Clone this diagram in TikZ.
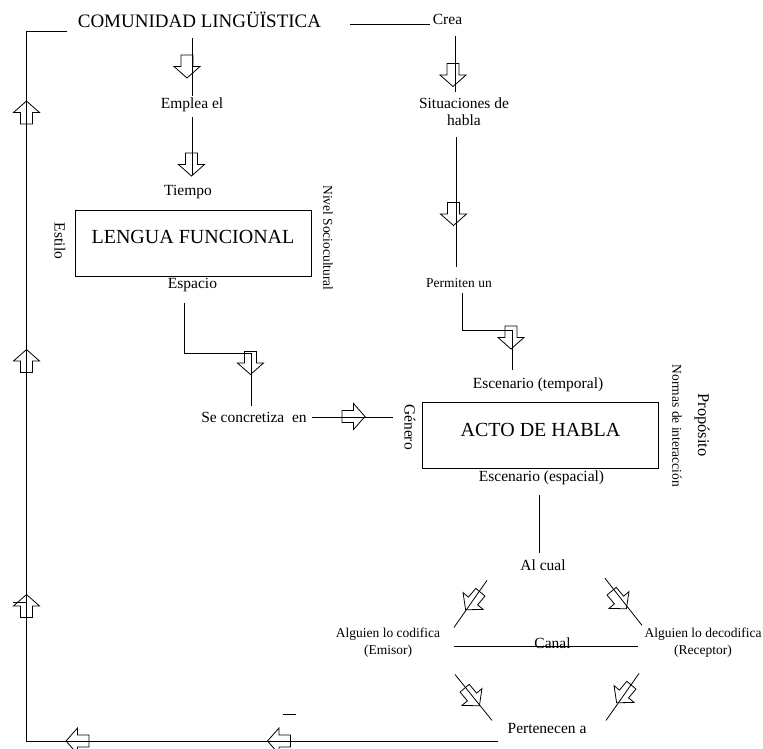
\documentclass[tikz,border=0pt]{standalone}
\usepackage{fontspec}
\setmainfont{Liberation Serif}
\tikzset{
	blockarr/.pic={\draw (-11.5,-6) -- (0,-6) -- (0,-13) -- (11.5,0) -- (0,13) -- (0,6) -- (-11.5,6) -- cycle;},
	titulo/.style={font=\fontsize{19}{21}\selectfont, inner sep=2pt},
	txt/.style={font=\fontsize{15.5}{17}\selectfont, inner sep=2pt, align=center},
	small/.style={font=\fontsize{13.5}{17}\selectfont, inner sep=2pt, align=center},
	prop/.style={font=\fontsize{16.5}{18}\selectfont, inner sep=2pt},
	caja/.style={draw, font=\fontsize{20}{22}\selectfont, minimum width=236pt, minimum height=66pt, inner sep=0pt}
}
\begin{document}
\begin{tikzpicture}[x=1pt, y=-1pt, line width=0.8pt]
		%%%%% START %%%%%
		\useasboundingbox (0,0) rectangle (763,748);
		\clip (0,0) rectangle (763,748);
		
		\node[titulo, anchor=base] (comunidad) at (199.5,27) {COMUNIDAD LINGÜÏSTICA};
		\node[txt, anchor=base] (crea) at (447.5,24) {Crea};
		\node[txt] (emplea) at (192,105) {Emplea el};
		\node[txt] (tiempo) at (188,192) {Tiempo};
		\node[caja, text depth=12pt] (lengua) at (193,243) {LENGUA FUNCIONAL};
		\node[txt, rotate=-90] (estilo) at (60,241) {Estilo};
		\node[small, rotate=-90] (nivel) at (328,238) {Nivel Sociocultural};
		\node[txt] (espacio) at (192.5,285) {Espacio};
		\node[txt] (concretiza) at (254,417) {Se concretiza\ \ en};
		
		\node[txt] (situaciones) at (464,112) {Situaciones de\\habla};
		\node[small] (permiten) at (459,283) {Permiten un};
		\node[txt] (temporal) at (538,385) {Escenario (temporal)};
		\node[caja, text depth=11pt] (acto) at (540.5,435) {ACTO DE HABLA};
		\node[txt, rotate=-90] (genero) at (410,427) {Género};
		\node[txt] (espacial) at (541.5,478) {Escenario (espacial)};
		\node[small, rotate=-90] (normas) at (677,426) {Normas de interacción};
		\node[prop, rotate=-90] (proposito) at (702,425) {Propósito};
		
		\node[txt] (alcual) at (543,565) {Al cual};
		\node[small] (emisor) at (388,643) {Alguien lo codifica\\(Emisor)};
		\node[small] (receptor) at (703,643) {Alguien lo decodifica\\(Receptor)};
		\node[txt, anchor=base] (canal) at (552.5,648) {Canal};
		\node[txt] (pertenecen) at (547,728) {Pertenecen a};
		
		% vuelta por la izquierda
		\coordinate (esquina) at (26,741);
		\draw[shorten >=7pt] ([xshift=-8pt,yshift=-2pt]comunidad.south west) -| (esquina) -- (esquina -| pertenecen.west);
		\pic[rotate=90] at (26.5,112.5) {blockarr};
		\pic[rotate=90] at (26.5,361) {blockarr};
		\pic[rotate=90] at (26.5,606) {blockarr};
		\draw (13,602) -- (26,602);
		\pic[rotate=180] at (77.5,741) {blockarr};
		\pic[rotate=180] at (279,741) {blockarr};
		\draw (283,714) -- (296,714);
		
		% columna izquierda
		\draw[shorten <=8pt] (emplea.north |- comunidad.south) -- (emplea.north);
		\pic[rotate=-90] at (187,66.5) {blockarr};
		\draw[shorten <=3pt, shorten >=8pt] (emplea.south) -- (emplea.south |- tiempo.north);
		\pic[rotate=-90] at (191.5,164.5) {blockarr};
		\coordinate (codo1) at (251,353);
		\draw[shorten <=9pt, shorten >=3pt] ([xshift=-8.5pt]espacio.south) |- (codo1) -- (codo1 |- concretiza.north);
		\pic[rotate=-90] at (250.5,363) {blockarr};
		\draw[shorten <=3pt, shorten >=9pt] (concretiza.east) -- (concretiza.east -| genero.south);
		\pic at (353.5,416.5) {blockarr};
		
		% columna derecha
		\draw ([xshift=-80pt]crea.base west) -- (crea.base west);
		\draw[shorten <=9pt, shorten >=4pt] ([xshift=7.5pt]crea.south) -- ([xshift=7.5pt]crea.south |- situaciones.north);
		\pic[rotate=-90] at (453,75) {blockarr};
		\draw[shorten <=9pt, shorten >=9pt] ([xshift=-8pt]situaciones.south) -- ([xshift=-8pt]situaciones.south |- permiten.north);
		\pic[rotate=-90] at (453.5,214) {blockarr};
		\coordinate (codo2) at (512,330);
		\draw[shorten <=3pt, shorten >=6pt] ([xshift=3pt]permiten.south) |- (codo2) -- (codo2 |- temporal.north);
		\pic[rotate=-90] at (511,337.5) {blockarr};
		
		% triangulo
		\draw[shorten <=8pt, shorten >=4.5pt] ([xshift=-2.5pt]espacial.south) -- ([xshift=-2.5pt]espacial.south |- alcual.north);
		\draw ([xshift=-56pt,yshift=-7.5pt]alcual.south) -- ++(-33,47);
		\draw ([xshift=62pt,yshift=-5.5pt]alcual.south) -- ++(37,47);
		\draw ([xshift=-55pt]pertenecen.north) -- ++(-37,-46);
		\draw ([xshift=59pt]pertenecen.north) -- ++(33,-47);
		\pic[rotate=230] at (473,601) {blockarr};
		\pic[rotate=-50] at (619,600) {blockarr};
		\pic[rotate=-50] at (472,697) {blockarr};
		\pic[rotate=230] at (624,694) {blockarr};
		\draw[shorten <=11pt, shorten >=4pt] ([yshift=-3.5pt]emisor.east) -- ([yshift=-3.5pt]receptor.west);
		
		%%%%% END %%%%%
\end{tikzpicture}
\end{document}
